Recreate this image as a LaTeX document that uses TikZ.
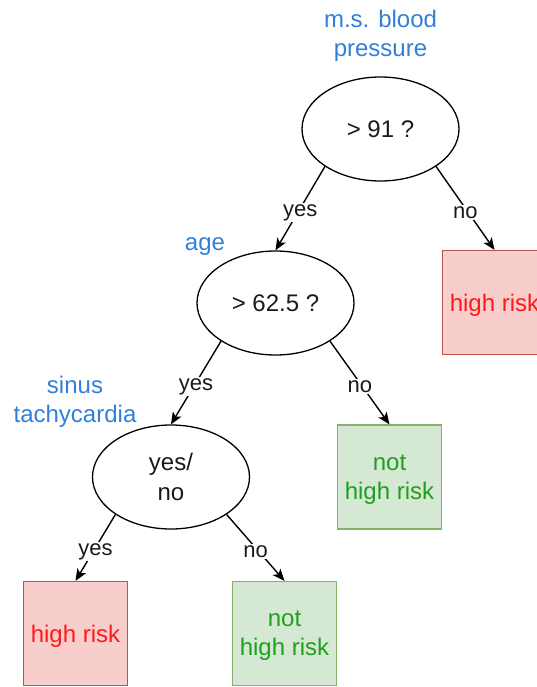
\documentclass[tikz,border=0pt]{standalone}
\usepackage{fontspec}
\setmainfont{Liberation Sans}
\usetikzlibrary{shapes.geometric,arrows.meta}

\definecolor{attrblue}{RGB}{48,128,216}
\definecolor{riskred}{RGB}{255,26,26}
\definecolor{riskfill}{HTML}{F8CECC}
\definecolor{riskline}{HTML}{B85450}
\definecolor{safegreen}{RGB}{30,160,30}
\definecolor{safefill}{HTML}{D5E8D4}
\definecolor{safeline}{HTML}{82B366}
\definecolor{inktext}{RGB}{26,26,26}

\tikzset{
  question/.style={ellipse, draw=black, line width=1.3pt, minimum width=157pt,
    minimum height=104pt, inner sep=0pt, align=center, text=inktext,
    font=\fontsize{24}{30}\selectfont},
  leafbox/.style={rectangle, line width=1.2pt, minimum width=104pt,
    minimum height=104pt, inner sep=0pt, align=center, text depth=0pt,
    font=\fontsize{24}{29}\selectfont},
  riskbox/.style={leafbox, draw=riskline, fill=riskfill, text=riskred},
  safebox/.style={leafbox, draw=safeline, fill=safefill, text=safegreen},
  attr/.style={align=center, text=attrblue, inner sep=0pt,
    font=\fontsize{24}{29}\selectfont},
  edge/.style={draw=black, line width=1.4pt,
    -{Stealth[length=12pt,width=10pt,inset=3pt]}},
  elabel/.style={fill=white, inner sep=1.5pt, yshift=-4pt, text=inktext,
    font=\fontsize{22}{26}\selectfont},
}

\begin{document}
\begin{tikzpicture}[x=1pt,y=-1pt]
  \clip (0,0) rectangle (537,687);

  % decision nodes
  \node[question] (q1) at (380.5,129) {> 91 ?};
  \node[question] (q2) at (275.5,303) {> 62.5 ?};
  \node[question] (q3) at (171,477) {yes/\\no};

  % attribute names above the decision nodes
  \node[attr] (a1) at (380.5,36) {m.s. blood\\pressure};
  \node[attr] (a2) at (205,247) {age};
  \node[attr] (a3) at (75,402) {sinus\\tachycardia};

  % leaves
  \node[riskbox] (l1) at (494.5,302.5) {high risk};
  \node[safebox] (l2) at (389.5,477) {not\\high risk};
  \node[riskbox] (l3) at (75.5,633.5) {high risk};
  \node[safebox] (l4) at (284.5,633.5) {not\\high risk};

  % branches
  \draw[edge] (q1.214) -- node[elabel] {yes} (q2.north);
  \draw[edge] (q1.326) -- node[elabel] {no} (l1.north);
  \draw[edge] (q2.215) -- node[elabel] {yes} (q3.north);
  \draw[edge] (q2.325) -- node[elabel] {no} (l2.north);
  \draw[edge] (q3.214) -- node[elabel] {yes} (l3.north);
  \draw[edge] (q3.326) -- node[elabel] {no} (l4.north);
\end{tikzpicture}
\end{document}
